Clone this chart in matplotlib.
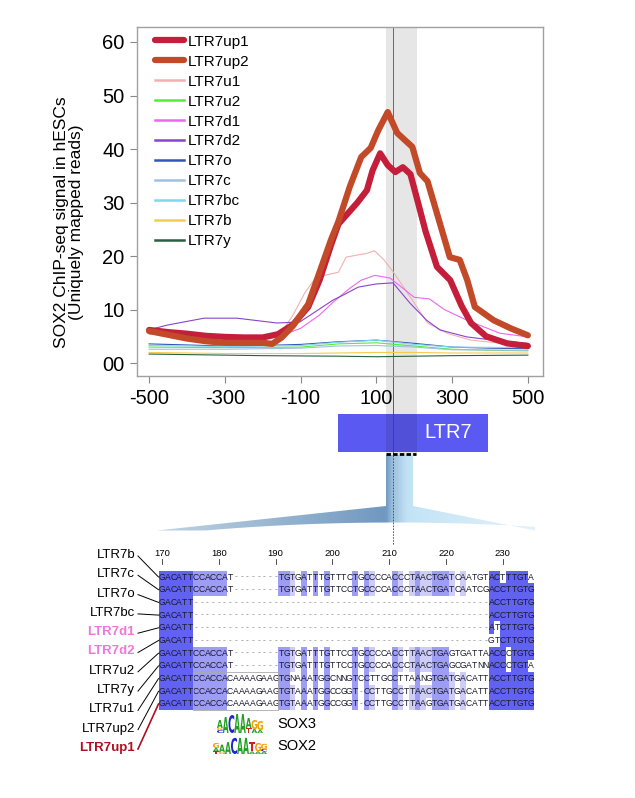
import numpy as np
import matplotlib
matplotlib.use("Agg")
import matplotlib.pyplot as plt
import matplotlib.transforms as mtransforms
from matplotlib.patches import Rectangle, Polygon, PathPatch
from matplotlib.textpath import TextPath
from matplotlib.font_manager import FontProperties
from matplotlib.colors import LinearSegmentedColormap
from collections import Counter

plt.rcParams['font.family'] = ['Liberation Sans', 'DejaVu Sans']
plt.rcParams['axes.unicode_minus'] = False

# ---- ChIP-seq profiles (position relative to LTR7 start, signal) ----
up1_x = [-500, -450, -400, -350, -300, -250, -200, -160, -120, -80, -50, -20, 0, 25, 50, 75, 90, 110, 130, 150, 170, 190, 210, 230, 260, 295, 325, 350, 390, 445, 500]
up1_y = [6.2, 5.8, 5.5, 5.1, 4.9, 4.8, 4.8, 5.4, 7.2, 10.5, 15.5, 22, 26, 28, 30, 32.3, 36, 39.2, 37, 35.7, 36.6, 35.3, 30, 24.6, 18, 15.5, 10.7, 7.5, 5, 3.7, 3.2]
up2_x = [-500, -450, -400, -350, -300, -250, -200, -175, -150, -120, -80, -50, -20, 0, 30, 60, 85, 105, 130, 155, 175, 195, 215, 235, 262, 294, 320, 340, 360, 410, 455, 500]
up2_y = [6, 5.3, 4.6, 4.1, 3.8, 3.8, 3.8, 3.6, 4.8, 7, 11, 17, 23, 26.5, 33, 38.5, 40.2, 43.5, 46.9, 43, 41.7, 40.4, 35.5, 34, 27.5, 19.8, 19.3, 15.5, 10.5, 8, 6.5, 5.2]
u1_x = [-500, -400, -300, -200, -150, -120, -90, -60, -30, 0, 20, 50, 75, 95, 120, 145, 190, 235, 290, 350, 420, 500]
u1_y = [5.5, 5.2, 4.8, 4.8, 5.8, 9, 13, 16, 16.5, 17, 19.8, 20.2, 20.5, 21, 19.3, 17, 12.3, 7.5, 5.5, 4.3, 3.8, 3.3]
u2_x = [-500, -300, -100, 0, 100, 200, 300, 400, 500]
u2_y = [3.0, 2.9, 3.0, 3.6, 3.8, 3.2, 2.6, 2.4, 2.3]
d1_x = [-500, -300, -200, -150, -100, -50, -14, 30, 60, 96, 136, 170, 200, 240, 280, 340, 426, 500]
d1_y = [5.5, 5, 5, 5.2, 6.5, 9, 11.4, 14, 15.5, 16.4, 15.9, 14, 12.3, 12, 10, 8, 5.6, 4.9]
d2_x = [-500, -453, -355, -268, -162, -102, -14, 12, 52, 100, 144, 189, 233, 268, 339, 420, 500]
d2_y = [6.2, 7.1, 8.4, 8.4, 7.5, 7.7, 11.8, 12.7, 14.2, 14.8, 15, 11.2, 8, 6.2, 4.9, 4.2, 3.7]
o_x = [-500, -400, -300, -200, -100, 0, 100, 200, 300, 400, 500]
o_y = [3.6, 3.4, 3.2, 3.3, 3.5, 4.0, 4.3, 3.7, 3.0, 2.8, 2.7]
c_x = [-500, -300, -100, 0, 100, 200, 300, 500]
c_y = [2.6, 2.6, 2.8, 3.2, 3.3, 3.0, 2.5, 2.4]
bc_x = [-500, -300, -100, 0, 100, 200, 300, 500]
bc_y = [3.3, 3.1, 3.3, 3.9, 4.3, 3.5, 3.0, 2.9]
b_x = [-500, -300, -100, 0, 100, 200, 300, 500]
b_y = [2.0, 1.8, 1.8, 1.9, 2.0, 2.0, 1.9, 1.9]
y_x = [-500, -300, -200, 0, 100, 200, 300, 500]
y_y = [1.7, 1.5, 1.4, 1.3, 1.2, 1.3, 1.4, 1.5]

series_names = ['LTR7up1', 'LTR7up2', 'LTR7u1', 'LTR7u2', 'LTR7d1', 'LTR7d2',
                'LTR7o', 'LTR7c', 'LTR7bc', 'LTR7b', 'LTR7y']
series_x = [up1_x, up2_x, u1_x, u2_x, d1_x, d2_x, o_x, c_x, bc_x, b_x, y_x]
series_y = [up1_y, up2_y, u1_y, u2_y, d1_y, d2_y, o_y, c_y, bc_y, b_y, y_y]
series_colors = ['#c41e3a', '#c24a28', '#f2b0b0', '#55ee33', '#ee66ee', '#8844cc',
                 '#3355bb', '#a0c0e0', '#80d8f0', '#f5cc50', '#2a5f3f']
thick = ['LTR7up1', 'LTR7up2']

x_ticks = [-500, -300, -100, 100, 300, 500]
y_ticks = [0, 10, 20, 30, 40, 50, 60]
y_ticklabels = ['00', '10', '20', '30', '40', '50', '60']

ltr7_span = (0, 395)
sox_band = (125, 207)
sox_center = 144

# ---- alignment ----
aln_names = ['LTR7b', 'LTR7c', 'LTR7o', 'LTR7bc', 'LTR7d1', 'LTR7d2',
             'LTR7u2', 'LTR7y', 'LTR7u1', 'LTR7up2', 'LTR7up1']
aln_name_colors = ['black', 'black', 'black', 'black', '#ee77dd', '#ee77dd',
                   'black', 'black', 'black', 'black', '#b01020']
aln_seqs = [
    "GACATTCCACCAT--------TGTGATTTGTTTCTGCCCCACCCTAACTGATCAATGTACTTTGTA",
    "GACATTCCACCAT--------TGTGATTTGTTCCTGCCCCACCCTAACTGATCAATCGACCTTGTG",
    "GACATT----------------------------------------------------ACCTTGTG",
    "GACATT----------------------------------------------------ACCTTGTG",
    "GACATT----------------------------------------------------ATCTTGTG",
    "GACATT----------------------------------------------------GTCTTGTG",
    "GACATTCCACCAT--------TGTGATTTGTTCCTGCCCCACCTTAACTGAGTGATTAACCCTGTG",
    "GACATTCCACCAT--------TGTGATTTGTTCCTGCCCCACCCTAACTGAGCGATNNACCCTGTA",
    "GACATTCCACCACAAAAGAAGTGNAAATGGCNNGTCCTTGCCTTAANGTGATGACATTACCTTGTG",
    "GACATTCCACCACAAAAGAAGTGTAAATGGCCGGT-CCTTGCCTTAACTGATGACATTACCTTGTG",
    "GACATTCCACCACAAAAGAAGTGTAAATGGCCGGT-CCTTGCCTTAAGTGATGACATTACCTTGTG",
]
aln_start = 170
ruler_ticks = [170, 180, 190, 200, 210, 220, 230]

# sequence logos: columns of (letter, bits) stacked bottom to top
sox3_logo = [[('C', 0.3), ('G', 0.2), ('A', 0.8)], [('A', 1.6)], [('C', 1.8)], [('A', 1.9)],
             [('A', 1.9)], [('T', 0.5), ('A', 1.0)], [('A', 0.4), ('G', 0.9)], [('A', 0.3), ('G', 0.9)]]
sox2_logo = [[('T', 0.3), ('A', 0.4), ('G', 0.6)], [('G', 0.2), ('A', 0.9)], [('A', 1.4)], [('C', 1.9)],
             [('A', 1.9)], [('A', 1.9)], [('A', 0.3), ('T', 1.1)], [('A', 0.3), ('G', 1.0)],
             [('A', 0.3), ('C', 0.3), ('G', 0.6)]]
logo_colors = {'A': '#22a022', 'C': '#2424d0', 'G': '#f0a000', 'T': '#d02020'}

fig = plt.figure(figsize=(6.35, 7.98), dpi=100)
W, H = 635, 798

ax = fig.add_axes([137 / W, 1 - 376 / H, 406 / W, 349 / H], zorder=2)
ov = fig.add_axes([0, 0, 1, 1], zorder=1)
ov.set_xlim(0, W)
ov.set_ylim(H, 0)
ov.axis('off')

# ---- profile plot ----
ax.axvspan(sox_band[0], sox_band[1], color='#e6e6e6', lw=0, zorder=0)
ax.axvline(sox_center, color='#555555', lw=0.6, zorder=1)
for name, xs, ys, col in zip(series_names, series_x, series_y, series_colors):
    if name in thick:
        ax.plot(xs, ys, color=col, lw=4.5, label=name, zorder=4, solid_capstyle='round',
                solid_joinstyle='round')
    else:
        ax.plot(xs, ys, color=col, lw=0.8, label=name, zorder=3)

ax.set_xlim(-532, 540)
ax.set_ylim(-2.4, 62.8)
ax.set_xticks(x_ticks)
ax.set_yticks(y_ticks)
ax.set_yticklabels(y_ticklabels)
ax.tick_params(labelsize=14.5, length=5, width=0.8, color='#888888', pad=4)
for s in ax.spines.values():
    s.set_color('#a0a0a0')
    s.set_linewidth(1)

leg = ax.legend(loc='upper left', bbox_to_anchor=(0.045, 0.978), frameon=False, fontsize=11,
                handlelength=1.85, handletextpad=0.25, labelspacing=0.39, borderpad=0, borderaxespad=0)
for ln in leg.get_lines():
    if ln.get_linewidth() < 2:
        ln.set_linewidth(1.8)

fig.text(69 / W, 1 - 222 / H, "SOX2 ChIP-seq signal in hESCs\n(Uniquely mapped reads)",
         rotation=90, ha='center', va='center', multialignment='center', fontsize=12.5, linespacing=0.95)

# ---- LTR7 element, band and funnel ----
bt = mtransforms.blended_transform_factory(ax.transData, ov.transData)
ov.add_patch(Rectangle((ltr7_span[0], 414), ltr7_span[1] - ltr7_span[0], 38, transform=bt,
                       facecolor='#5a5af2', lw=0, zorder=2))
ov.add_patch(Rectangle((sox_band[0], 376), sox_band[1] - sox_band[0], 455 - 376, transform=bt,
                       facecolor='black', alpha=0.1, lw=0, zorder=3))
ov.text(448, 433, 'LTR7', color='white', fontsize=14.5, ha='center', va='center', zorder=4)
ov.plot([sox_center, sox_center], [376, 455], transform=bt, color='#444444', lw=0.6, zorder=4)
ov.plot([sox_band[0], sox_band[1] - 3], [454, 454], transform=bt, color='black', lw=2,
        dashes=(1.6, 0.8), zorder=4)

xs_curve = np.linspace(535, 157, 40)
ys_curve = 530.5 - 8 * (1 - ((xs_curve - 395) / 190) ** 2).clip(0, None)
poly_pts = [(386, 455), (413, 455), (413, 506), (535, 530.5)] + list(zip(xs_curve, ys_curve)) + [(157, 530.5), (386, 506)]
funnel = Polygon(poly_pts, closed=True, facecolor='none', edgecolor='none')
ov.add_patch(funnel)
cmap = LinearSegmentedColormap.from_list('funnel', [
    (0.0, '#c2d4e4'), (0.606, '#7098c0'), (0.625, '#9cc0dc'),
    (0.66, '#c0e0f4'), (0.68, '#c4e4f6'), (1.0, '#e4f2fa')])
grad = np.linspace(0, 1, 400).reshape(1, -1)
im = ov.imshow(grad, extent=(157, 535, 531, 455), aspect='auto', cmap=cmap, zorder=1)
im.set_clip_path(funnel)
ov.plot([sox_center, sox_center], [455, 545], transform=bt, color='#444444', lw=0.6,
        dashes=(2, 1.5), zorder=4)
ov.set_xlim(0, W)
ov.set_ylim(H, 0)

# ---- alignment ----
cw, rh = 5.68, 12.7
x0, y0 = 162, 577
nrows = len(aln_seqs)
ncols = len(aln_seqs[0])

for t in ruler_ticks:
    xt = x0 + (t - aln_start) * cw
    ov.text(xt, 553, str(t), fontsize=6.8, ha='center', va='center')
    ov.plot([xt, xt], [559, 564], color='#333333', lw=0.6)

shade = {3: '#6262f2', 2: '#9d9df5', 1: '#cdcdf8'}
for j in range(ncols):
    col = [s[j] for s in aln_seqs]
    cnt = Counter(ch for ch in col if ch not in '-N')
    cons, n = cnt.most_common(1)[0]
    pct = n / nrows
    level = 3 if pct > 0.8 else 2 if pct > 0.6 else 1 if pct > 0.4 else 0
    for i, ch in enumerate(col):
        xc = x0 + j * cw
        yc = y0 + i * rh
        if level and ch == cons:
            ov.add_patch(Rectangle((xc - cw / 2, yc - rh / 2), cw, rh, facecolor=shade[level],
                                   lw=0, zorder=2))
        if ch == '-':
            ov.text(xc, yc, '-', fontsize=6, color='#777777', ha='center', va='center', zorder=3)
        else:
            ov.text(xc, yc, ch, fontsize=6.2, color='#1a1a2a', ha='center', va='center', zorder=3)

ov.add_patch(Rectangle((x0 + 6 * cw - cw / 2, y0 + 8 * rh - rh / 2), 15 * cw, 3 * rh,
                       fill=False, edgecolor='#aaaaaa', lw=0.6, zorder=4))

for i, (name, col) in enumerate(zip(aln_names, aln_name_colors)):
    ly = 555 + i * 19.3
    ry = y0 + i * rh
    bold = col != 'black'
    ov.text(135, ly, name, fontsize=9.5, color=col, ha='right', va='center',
            fontweight='bold' if bold else 'normal')
    ov.plot([138, 158.5], [ly + 1, ry], color=col if name == 'LTR7up1' else 'black',
            lw=1.2 if name == 'LTR7up1' else 0.7)

# ---- sequence logos ----
fp = FontProperties(family='DejaVu Sans', weight='bold')


def draw_logo(cols, xl, ybot, width, px_per_bit):
    for i, stack in enumerate(cols):
        yb = ybot
        for letter, bits in stack:
            tp = TextPath((0, 0), letter, size=1, prop=fp)
            bb = tp.get_extents()
            hp = bits * px_per_bit
            tr = (mtransforms.Affine2D().translate(-bb.x0, -bb.y0)
                  .scale(width / bb.width, -hp / bb.height).translate(xl + i * width, yb))
            ov.add_patch(PathPatch(tr.transform_path(tp), facecolor=logo_colors[letter], lw=0, zorder=3))
            yb -= hp


draw_logo(sox3_logo, 217, 733, 5.75, 10)
draw_logo(sox2_logo, 213, 754, 6.0, 8.5)
ov.text(277, 724, 'SOX3', fontsize=10.5, ha='left', va='center')
ov.text(277, 746, 'SOX2', fontsize=10.5, ha='left', va='center')

fig.savefig('out.png', dpi=100)
